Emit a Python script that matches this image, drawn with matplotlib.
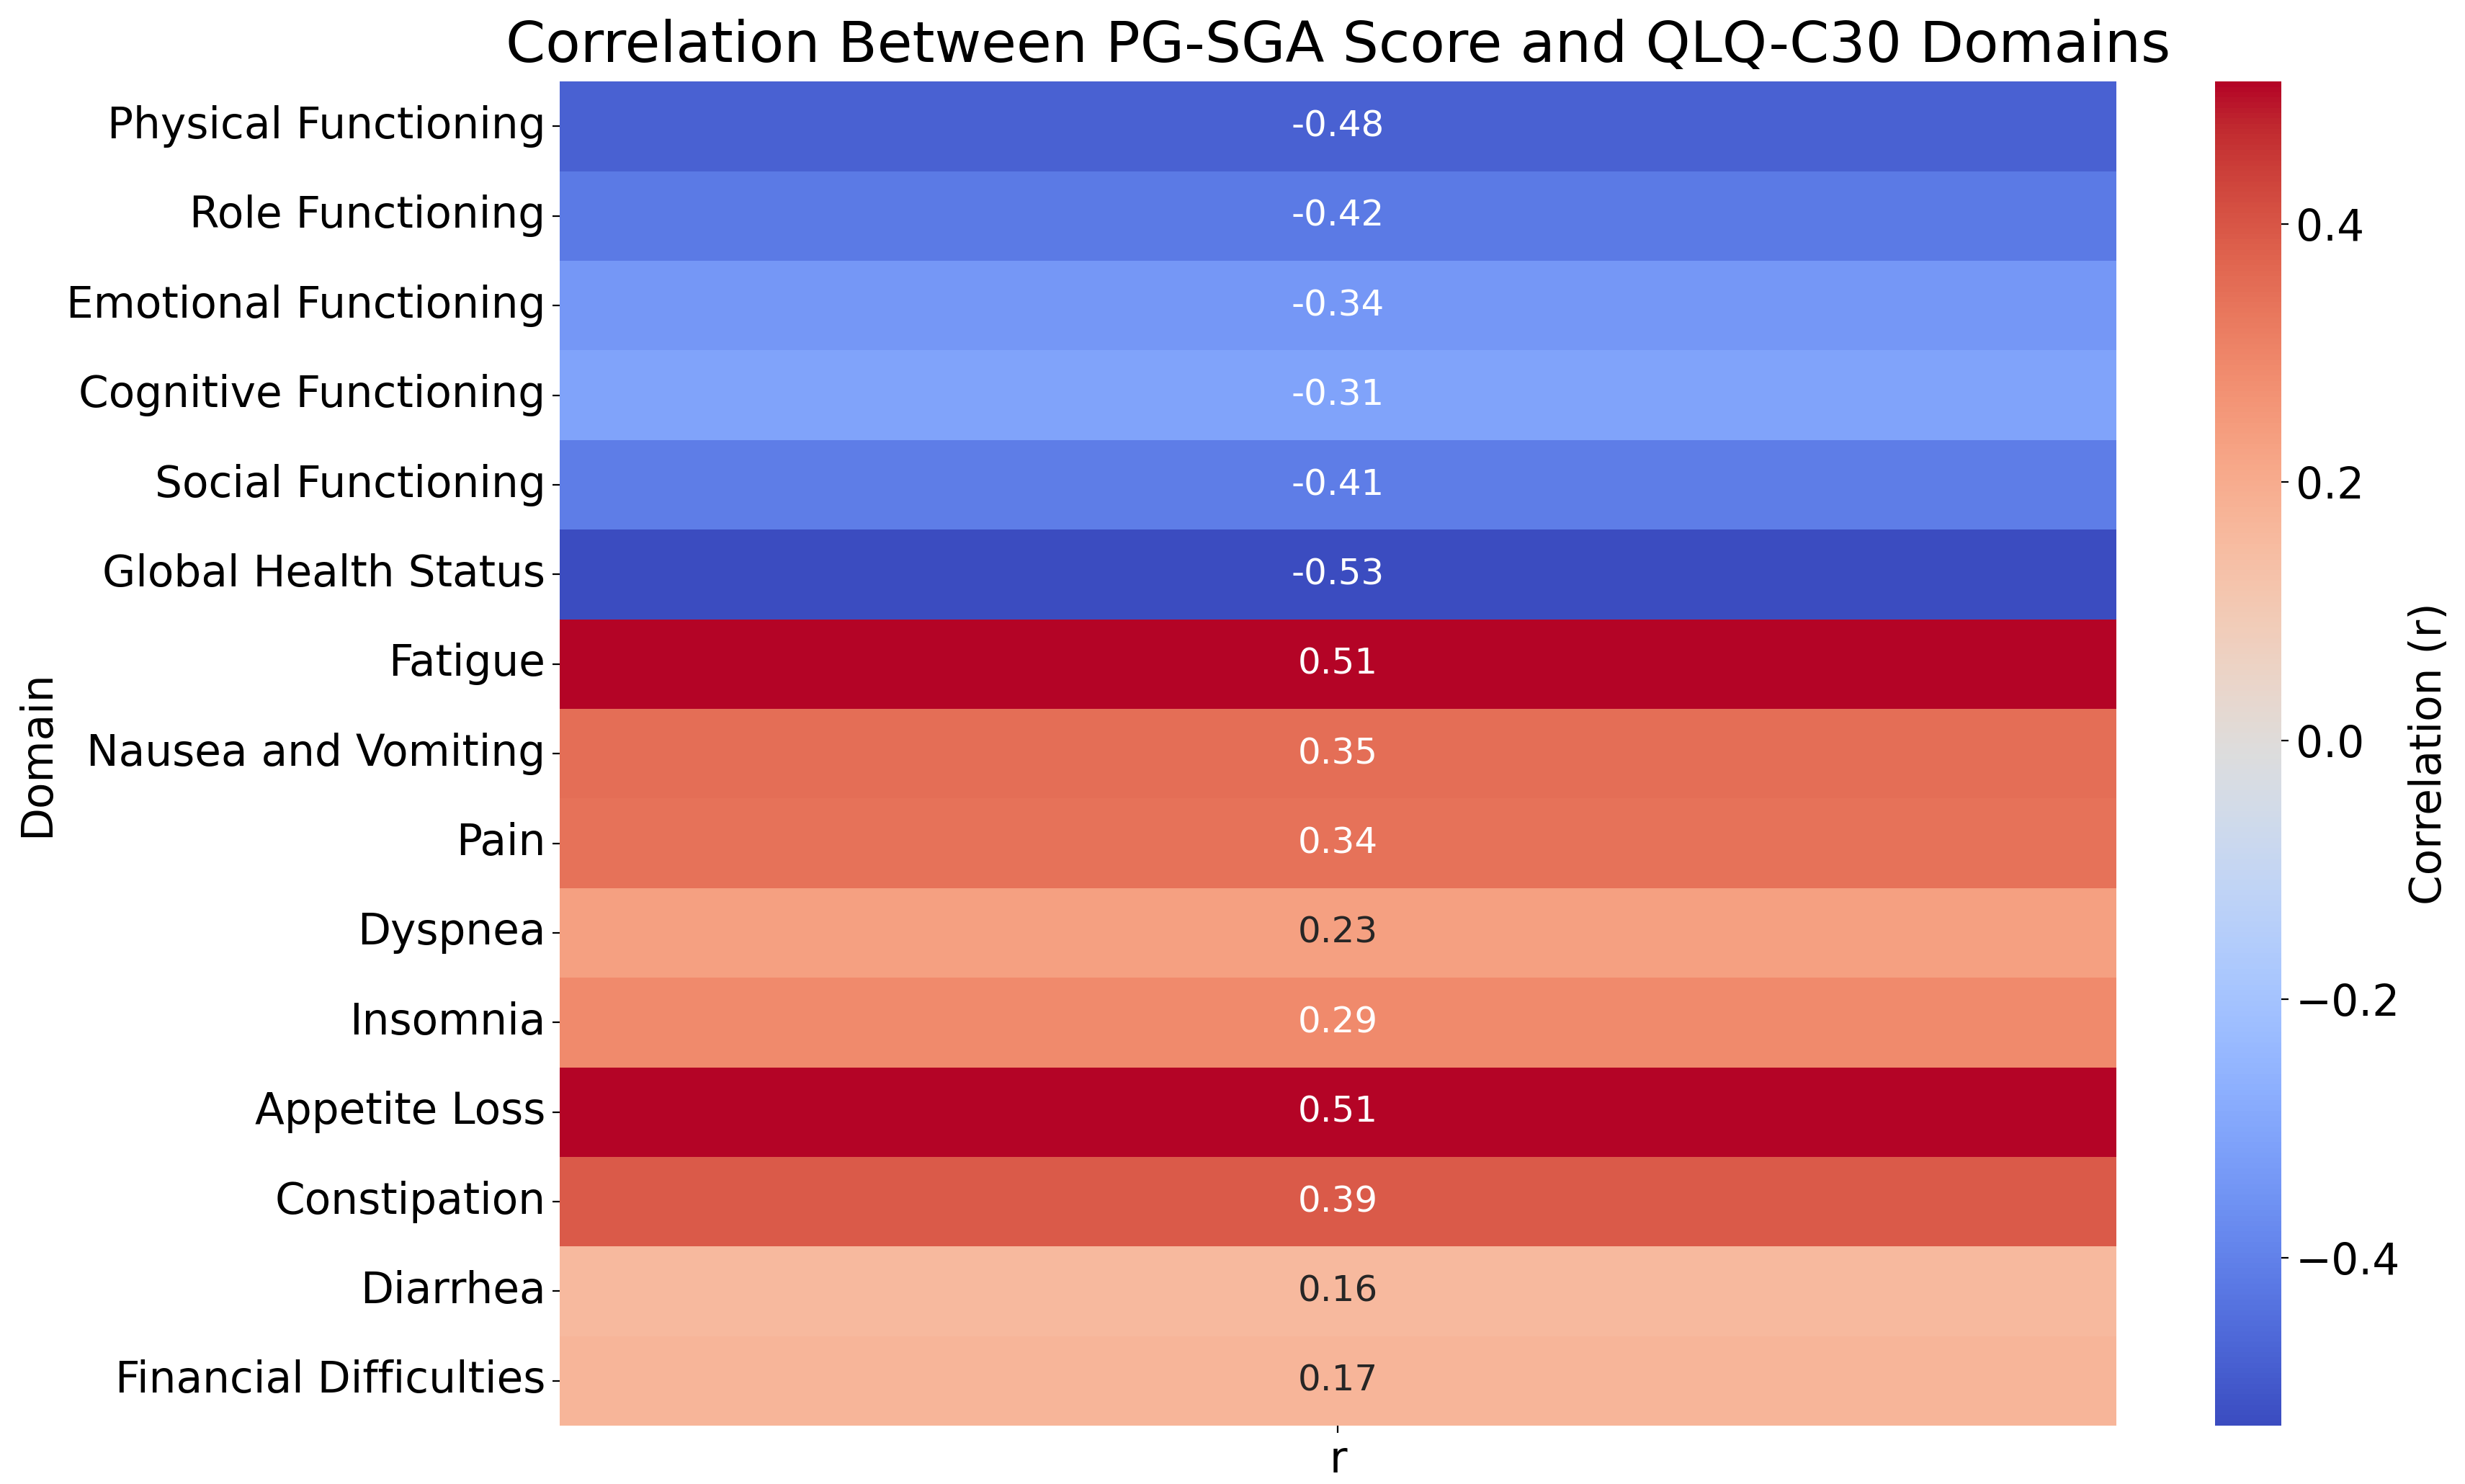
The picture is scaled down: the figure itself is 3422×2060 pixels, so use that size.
import numpy as np
import pandas as pd
import seaborn as sns
from matplotlib import pyplot as plt

domains = [
    "Physical Functioning", "Role Functioning", "Emotional Functioning",
    "Cognitive Functioning", "Social Functioning", "Global Health Status",
    "Fatigue", "Nausea and Vomiting", "Pain", "Dyspnea", "Insomnia",
    "Appetite Loss", "Constipation", "Diarrhea", "Financial Difficulties",
]
r_values = [-0.48, -0.42, -0.34, -0.31, -0.41, -0.53,
            0.51, 0.35, 0.34, 0.23, 0.29, 0.51, 0.39, 0.16, 0.17]

df = pd.DataFrame({"r": r_values}, index=pd.Index(domains, name="Domain"))

fig = plt.figure(figsize=(17.11, 10.3), dpi=200)
ax = fig.add_axes([0.227, 0.0393, 0.6316, 0.9057])
cax = fig.add_axes([0.8986, 0.0393, 0.0269, 0.9057])

sns.heatmap(df, annot=True, fmt=".2f", cmap="coolwarm", ax=ax, cbar_ax=cax,
            annot_kws={"size": 18}, cbar_kws={"label": "Correlation (r)"})

ax.set_title("Correlation Between PG-SGA Score and QLQ-C30 Domains", fontsize=28.5, pad=10)
ax.set_ylabel("Domain", fontsize=21.5)
ax.tick_params(axis="y", labelsize=21.5, rotation=0)
ax.tick_params(axis="x", labelsize=21.5)
cax.tick_params(labelsize=21.5)
cax.set_ylabel("Correlation (r)", fontsize=21.5)

fig.savefig("out.png", dpi=200)
